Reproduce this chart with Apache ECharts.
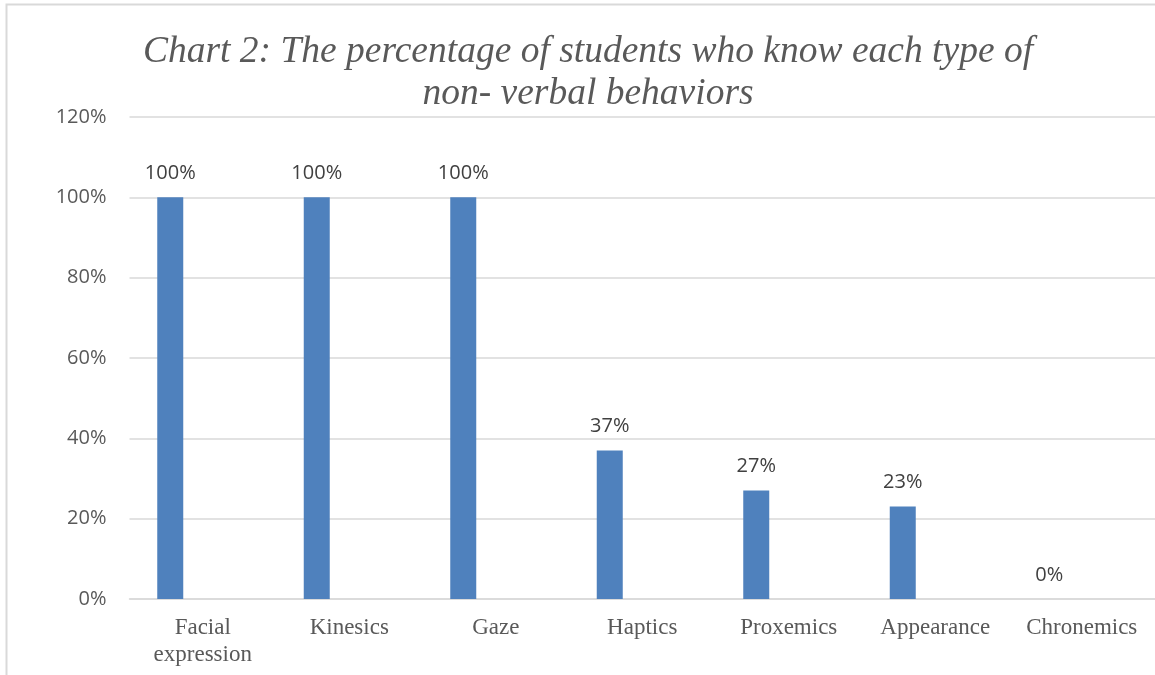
<!DOCTYPE html>
<html>
<head>
<meta charset="utf-8">
<script src="https://cdn.jsdelivr.net/npm/echarts@6/dist/echarts.min.js"></script>
<style>
  html, body { margin: 0; padding: 0; background: #ffffff; }
  #chart { width: 1155px; height: 675px; }
</style>
</head>
<body>
<div id="chart"></div>
<script>
// Non-verbal behaviour types and the share of students who know each one
const categories = ['Facial\nexpression', 'Kinesics', 'Gaze', 'Haptics', 'Proxemics', 'Appearance', 'Chronemics'];
const knownPercent = [100, 100, 100, 37, 27, 23, 0];
// Empty companion series: keeps each bar in the left half of its category slot
const companion = [null, null, null, null, null, null, null];
const yTicks = [0, 20, 40, 60, 80, 100, 120];

const chart = echarts.init(document.getElementById('chart'), null, { renderer: 'canvas' });

chart.setOption({
  backgroundColor: '#ffffff',
  animation: false,
  title: {
    text: 'Chart 2: The percentage of students who know each type of\nnon- verbal behaviors',
    left: 583,
    top: 26,
    textAlign: 'center',
    textStyle: {
      fontFamily: 'Liberation Serif',
      fontStyle: 'italic',
      fontWeight: 'normal',
      fontSize: 37.5,
      lineHeight: 42,
      color: '#595959'
    }
  },
  graphic: [{
    type: 'rect',
    shape: { x: 6.5, y: 4.5, width: 1200, height: 720 },
    style: { fill: 'none', stroke: '#d9d9d9', lineWidth: 2 },
    silent: true,
    z: -1
  }],
  grid: { left: 129.5, top: 117, width: 1029, height: 482, containLabel: false },
  xAxis: {
    type: 'category',
    data: categories,
    axisLine: { show: true, lineStyle: { color: '#d9d9d9', width: 1.5 } },
    axisTick: { show: false },
    axisLabel: {
      interval: 0,
      margin: 15,
      fontFamily: 'Liberation Serif',
      fontSize: 23,
      lineHeight: 27,
      color: '#595959'
    }
  },
  yAxis: {
    type: 'value',
    min: yTicks[0],
    max: yTicks[yTicks.length - 1],
    interval: 20,
    axisLine: { show: false },
    axisTick: { show: false },
    splitLine: { lineStyle: { color: '#d9d9d9', width: 1.5 } },
    axisLabel: {
      margin: 23,
      fontFamily: 'Open Sans',
      fontSize: 20,
      color: '#595959',
      formatter: v => v + '%'
    }
  },
  series: [{
    type: 'bar',
    data: knownPercent,
    barWidth: 26,
    barGap: '150%',
    itemStyle: { color: '#4f81bd' },
    label: {
      show: true,
      position: 'top',
      distance: 14,
      fontFamily: 'Open Sans',
      fontSize: 20,
      color: '#404040',
      formatter: p => p.value + '%'
    }
  }, {
    type: 'bar',
    data: companion,
    barWidth: 26,
    itemStyle: { color: '#c0504d' }
  }]
});
</script>
</body>
</html>
